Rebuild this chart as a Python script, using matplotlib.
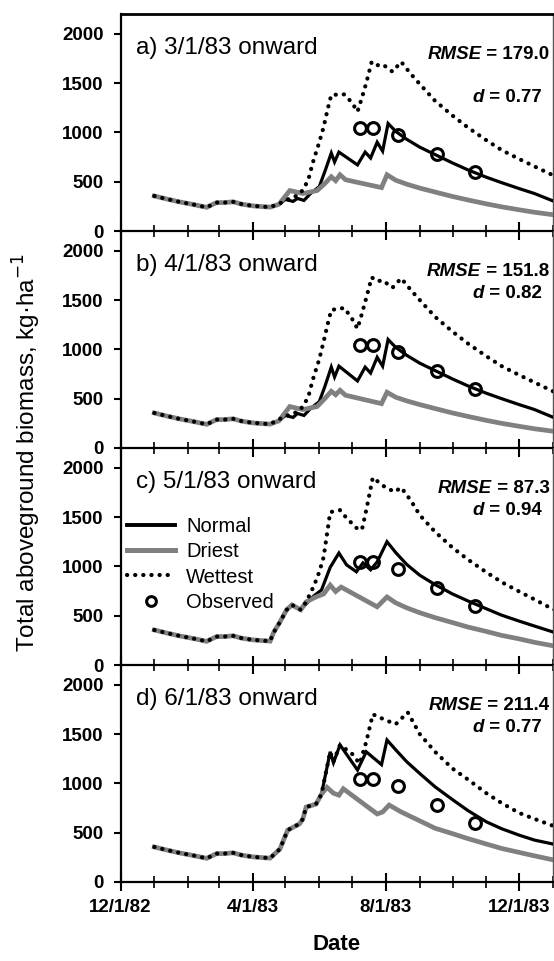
import matplotlib
matplotlib.use('Agg')
import matplotlib.pyplot as plt
import matplotlib.dates as mdates
from matplotlib.lines import Line2D
from matplotlib.ticker import FuncFormatter
import numpy as np

plt.rcParams['font.family'] = ['Liberation Sans', 'DejaVu Sans']

# ---------------- data ----------------
common_dates = ['1983-01-01', '1983-01-12', '1983-01-24', '1983-02-05', '1983-02-18',
                '1983-02-22', '1983-02-27', '1983-03-06', '1983-03-14', '1983-03-22',
                '1983-04-01', '1983-04-09', '1983-04-17']
common_vals = [355, 325, 295, 270, 240, 262, 288, 288, 296, 272, 255, 248, 242]

decay_dates = ['1983-09-01', '1983-09-15', '1983-10-01', '1983-10-15', '1983-11-01',
               '1983-11-15', '1983-12-01', '1983-12-15', '1984-01-01', '1984-01-08']

# panel a) 3/1/83 onward
a_norm_dates = ['1983-04-25', '1983-05-01', '1983-05-08', '1983-05-12', '1983-05-18', '1983-05-24',
                '1983-06-01', '1983-06-06', '1983-06-12', '1983-06-15', '1983-06-19', '1983-07-06',
                '1983-07-13', '1983-07-18', '1983-07-24', '1983-07-29', '1983-08-03', '1983-08-10',
                '1983-08-20'] + decay_dates
a_norm_vals = [270, 320, 300, 330, 310, 380, 450, 600, 790, 700, 800, 670,
               800, 740, 900, 810, 1090, 1010, 930,
               850, 775, 690, 620, 545, 490, 430, 380, 305, 290]
a_dry_dates = ['1983-04-25', '1983-05-05', '1983-05-17', '1983-05-30', '1983-06-06', '1983-06-12',
               '1983-06-16', '1983-06-20', '1983-06-25', '1983-07-28', '1983-08-02', '1983-08-10',
               '1983-08-20'] + decay_dates
a_dry_vals = [270, 410, 380, 410, 480, 550, 510, 570, 520, 440, 570, 515,
              475, 435, 395, 350, 315, 275, 245, 215, 190, 165, 158]
a_wet_dates = ['1983-04-25', '1983-05-05', '1983-05-12', '1983-05-17', '1983-05-22', '1983-05-26',
               '1983-06-01', '1983-06-05', '1983-06-09', '1983-06-12', '1983-06-24', '1983-07-01',
               '1983-07-06', '1983-07-10', '1983-07-14', '1983-07-19', '1983-07-24', '1983-07-29',
               '1983-08-07', '1983-08-15', '1983-08-24'] + decay_dates
a_wet_vals = [275, 330, 360, 415, 520, 690, 900, 1055, 1250, 1380, 1385, 1300,
              1210, 1350, 1500, 1715, 1680, 1690, 1615, 1715, 1590,
              1490, 1320, 1170, 1050, 920, 820, 730, 655, 565, 535]

# panel b) 4/1/83 onward
b_norm_dates = a_norm_dates
b_norm_vals = [275, 330, 310, 350, 330, 400, 470, 620, 820, 720, 830, 680,
               820, 760, 920, 830, 1100, 1020, 940,
               860, 785, 700, 630, 555, 500, 440, 390, 312, 298]
b_dry_dates = a_dry_dates
b_dry_vals = [275, 420, 390, 420, 500, 575, 540, 585, 535, 450, 565, 515,
              478, 440, 400, 355, 320, 280, 250, 220, 195, 170, 162]
b_wet_dates = a_wet_dates
b_wet_vals = [290, 340, 365, 420, 520, 690, 900, 1080, 1270, 1400, 1420, 1310,
              1210, 1360, 1520, 1730, 1690, 1700, 1625, 1720, 1600,
              1500, 1330, 1180, 1060, 930, 830, 740, 665, 575, 545]

# panel c) 5/1/83 onward
c_rise_dates = ['1983-04-20', '1983-04-26', '1983-05-02', '1983-05-07', '1983-05-12', '1983-05-15']
c_rise_vals = [325, 436, 558, 609, 578, 560]
c_norm_dates = ['1983-05-20', '1983-05-27', '1983-06-03', '1983-06-11', '1983-06-19', '1983-06-26',
                '1983-07-05', '1983-07-11', '1983-07-18', '1983-07-24', '1983-08-02', '1983-08-10',
                '1983-08-20'] + decay_dates
c_norm_vals = [620, 700, 760, 990, 1135, 1015, 945, 1035, 965, 1045, 1250, 1140,
               1020, 910, 815, 720, 650, 570, 505, 445, 395, 335, 320]
c_dry_dates = ['1983-05-20', '1983-05-29', '1983-06-05', '1983-06-11', '1983-06-16', '1983-06-21',
               '1983-07-24', '1983-08-02', '1983-08-10', '1983-08-20'] + decay_dates
c_dry_vals = [640, 690, 720, 810, 745, 790, 590, 690, 630, 580,
              530, 480, 430, 385, 340, 300, 265, 230, 195, 185]
c_wet_dates = ['1983-05-20', '1983-05-27', '1983-06-01', '1983-06-05', '1983-06-11', '1983-06-20',
               '1983-06-26', '1983-07-05', '1983-07-10', '1983-07-14', '1983-07-20', '1983-07-31',
               '1983-08-09', '1983-08-15', '1983-08-24'] + decay_dates
c_wet_vals = [640, 800, 943, 1095, 1550, 1570, 1490, 1390, 1370, 1570, 1900, 1805,
              1755, 1800, 1665,
              1520, 1350, 1190, 1070, 940, 840, 745, 665, 565, 540]

# panel d) 6/1/83 onward
d_rise_dates = ['1983-04-26', '1983-05-03', '1983-05-14', '1983-05-17', '1983-05-20', '1983-05-29',
                '1983-06-03']
d_rise_vals = [335, 525, 590, 640, 760, 790, 890]
d_norm_dates = ['1983-06-11', '1983-06-14', '1983-06-20', '1983-07-06', '1983-07-14', '1983-07-28',
                '1983-08-02', '1983-08-10', '1983-08-20'] + decay_dates
d_norm_vals = [1320, 1210, 1390, 1135, 1320, 1190, 1440, 1340, 1220,
               1100, 965, 835, 725, 610, 540, 475, 425, 385, 370]
d_dry_dates = ['1983-06-08', '1983-06-14', '1983-06-19', '1983-06-23', '1983-07-24', '1983-07-29',
               '1983-08-04', '1983-08-15'] + decay_dates
d_dry_vals = [960, 900, 880, 945, 690, 710, 780, 710,
              620, 545, 490, 440, 385, 340, 300, 265, 225, 212]
d_wet_dates = ['1983-06-11', '1983-06-14', '1983-06-20', '1983-07-01', '1983-07-08', '1983-07-14',
               '1983-07-20', '1983-08-01', '1983-08-10', '1983-08-21'] + decay_dates
d_wet_vals = [1320, 1220, 1390, 1300, 1200, 1420, 1700, 1640, 1600, 1720,
              1500, 1320, 1150, 1040, 900, 800, 700, 640, 570, 550]

obs_dates = ['1983-07-08', '1983-07-20', '1983-08-12', '1983-09-17', '1983-10-22']
obs_vals = [1040, 1040, 970, 785, 595]

titles = ['a) 3/1/83 onward', 'b) 4/1/83 onward', 'c) 5/1/83 onward', 'd) 6/1/83 onward']
rmse_vals = ['179.0', '151.8', '87.3', '211.4']
d_vals = ['0.77', '0.82', '0.94', '0.77']
yticks = [0, 500, 1000, 1500, 2000]

panels = [
    (common_dates + a_norm_dates, common_vals + a_norm_vals,
     common_dates + a_dry_dates, common_vals + a_dry_vals,
     common_dates + a_wet_dates, common_vals + a_wet_vals),
    (common_dates + b_norm_dates, common_vals + b_norm_vals,
     common_dates + b_dry_dates, common_vals + b_dry_vals,
     common_dates + b_wet_dates, common_vals + b_wet_vals),
    (common_dates + c_rise_dates + c_norm_dates, common_vals + c_rise_vals + c_norm_vals,
     common_dates + c_rise_dates + c_dry_dates, common_vals + c_rise_vals + c_dry_vals,
     common_dates + c_rise_dates + c_wet_dates, common_vals + c_rise_vals + c_wet_vals),
    (common_dates + d_rise_dates + d_norm_dates, common_vals + d_rise_vals + d_norm_vals,
     common_dates + d_rise_dates + d_dry_dates, common_vals + d_rise_vals + d_dry_vals,
     common_dates + d_rise_dates + d_wet_dates, common_vals + d_rise_vals + d_wet_vals),
]

# ---------------- figure ----------------
W, H = 554, 961
fig = plt.figure(figsize=(W / 100, H / 100), dpi=100)

left_px, right_px = 120.5, 553.0
tops = [14, 231, 448, 665]
ph = 217

GRAY = '#808080'
DOTS = (0, (0.05, 1.9))
xmin = np.datetime64('1982-12-01')
xmax = np.datetime64('1984-01-01')


def date_fmt(x, pos):
    dt = mdates.num2date(x)
    return f"{dt.month}/{dt.day}/{dt.strftime('%y')}"


def D(lst):
    return np.array(lst, dtype='datetime64[D]')


axes = []
for i, (nd, nv, dd, dv, wd, wv) in enumerate(panels):
    top = tops[i]
    ax = fig.add_axes([left_px / W, 1 - (top + ph) / H, (right_px - left_px) / W, ph / H])
    axes.append(ax)
    ax.set_facecolor('none')
    ax.plot(D(nd), nv, color='black', lw=2.3, zorder=3, solid_joinstyle='miter')
    ax.plot(D(dd), dv, color=GRAY, lw=3.4, zorder=4, solid_joinstyle='miter')
    ax.plot(D(wd), wv, color='black', lw=3.0, linestyle=DOTS,
            dash_capstyle='round', zorder=5)
    ax.plot(D(obs_dates), obs_vals, linestyle='none', marker='o', ms=8.5, mfc='none',
            mec='black', mew=2.2, zorder=6)

    ax.set_xlim(xmin, xmax)
    ax.set_ylim(0, 2200)
    ax.set_yticks(yticks)
    ax.xaxis.set_major_locator(mdates.MonthLocator(bymonth=[4, 8, 12]))
    ax.xaxis.set_minor_locator(mdates.MonthLocator())
    ax.xaxis.set_major_formatter(FuncFormatter(date_fmt))
    ax.tick_params(axis='x', which='major', direction='inout', length=13, width=1.5,
                   labelsize=13.5, pad=6)
    ax.tick_params(axis='x', which='minor', direction='inout', length=8, width=1.2)
    ax.tick_params(axis='y', which='major', direction='out', length=5, width=1.5,
                   labelsize=13.5, pad=7)
    for lab in ax.get_xticklabels() + ax.get_yticklabels():
        lab.set_fontweight('bold')
    if i < 3:
        ax.tick_params(axis='x', which='both', labelbottom=False)
    ax.spines['left'].set_linewidth(1.6)
    ax.spines['bottom'].set_linewidth(1.6)
    ax.spines['right'].set_linewidth(1.0)
    ax.spines['right'].set_color('#555555')
    if i == 0:
        ax.spines['top'].set_linewidth(2.0)
    else:
        ax.spines['top'].set_visible(False)

    ax.text(0.035, 0.843, titles[i], transform=ax.transAxes, ha='left', va='center',
            fontsize=17.5)
    ry = 0.815
    dy = 0.615 if i == 0 else 0.71
    t1 = ax.text(0.992, ry, ' = ' + rmse_vals[i], transform=ax.transAxes, ha='right',
                 va='center', fontsize=13.5, fontweight='bold')
    ax.annotate('RMSE', xy=(0, 0), xycoords=t1, ha='right', va='bottom', fontsize=13.5,
                fontweight='bold', fontstyle='italic')
    t2 = ax.text(0.975, dy, ' = ' + d_vals[i], transform=ax.transAxes, ha='right',
                 va='center', fontsize=13.5, fontweight='bold')
    ax.annotate('d', xy=(0, 0), xycoords=t2, ha='right', va='bottom', fontsize=13.5,
                fontweight='bold', fontstyle='italic')

# legend in panel c
handles = [
    Line2D([], [], color='black', lw=2.8),
    Line2D([], [], color=GRAY, lw=3.6),
    Line2D([], [], color='black', lw=3.0, linestyle=DOTS, dash_capstyle='round'),
    Line2D([], [], color='black', linestyle='none', marker='o', ms=7, mfc='none', mew=2.2),
]
axes[2].legend(handles, ['Normal', 'Driest', 'Wettest', 'Observed'], loc='upper left',
               bbox_to_anchor=(0.015, 0.68), frameon=False, fontsize=14.5, handlelength=2.4,
               handletextpad=0.55, labelspacing=0.3, borderpad=0, borderaxespad=0,
               numpoints=1)

fig.text(27 / W, 1 - 452 / H, 'Total aboveground biomass, kg\u00b7ha$^{-1}$', rotation=90,
         ha='center', va='center', fontsize=17.5)
fig.text(337 / W, 1 - 944 / H, 'Date', ha='center', va='center', fontsize=16,
         fontweight='bold')

fig.savefig('out.png', dpi=100)
